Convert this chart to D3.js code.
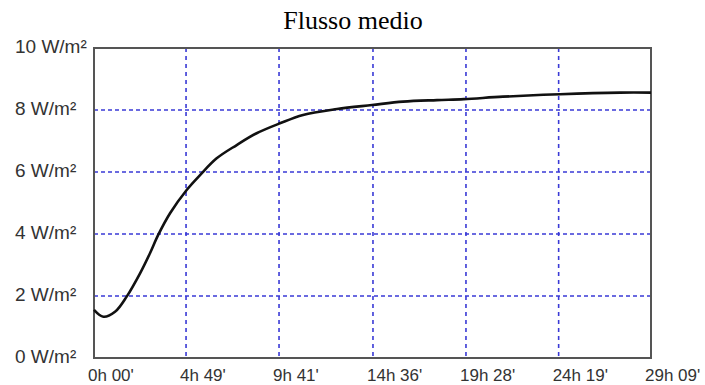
<!DOCTYPE html>
<head>
    <script src="https://d3js.org/d3.v7.min.js"></script>
    <style>
body { margin: 0; background: #fff; }
svg { display: block; }
</style>
</head>
<body>
    <svg></svg>
</body>

<script>
    // hours since start
    var hours = [0, 0.49, 1.10, 1.71, 2.41, 2.93, 3.36, 3.98, 4.85, 5.55, 6.42, 7.47,
                 8.51, 9.73, 10.94, 12.72, 14.55, 16.17, 17.95, 19.36, 21.40, 24.39, 27.53, 29.15];
    // mean flux, W/m2
    var flux = [1.55, 1.33, 1.49, 1.98, 2.73, 3.38, 3.97, 4.67, 5.42, 5.90, 6.44, 6.87,
                7.25, 7.57, 7.84, 8.03, 8.16, 8.27, 8.32, 8.35, 8.43, 8.51, 8.56, 8.56];
    var xTickLabels = ["0h 00'", "4h 49'", "9h 41'", "14h 36'", "19h 28'", "24h 19'", "29h 09'"];
    var yTicks = [0, 2, 4, 6, 8, 10];

    var width = 705, height = 385;
    var pLeft = 94, pRight = 651, pTop = 48, pBottom = 358;

    function parseLabel(s) {
        var m = s.match(/(\d+)h (\d+)'/);
        return +m[1] + m[2] / 60;
    }
    var xTicks = xTickLabels.map(parseLabel);

    var x = d3.scaleLinear().domain([0, 29.15]).range([pLeft, pRight]);
    var y = d3.scaleLinear().domain([0, 10]).range([pBottom, pTop]);

    var svg = d3.select('svg').attr('width', width).attr('height', height);

    svg.append('text')
        .attr('x', 353).attr('y', 29)
        .attr('text-anchor', 'middle')
        .style('font-family', '"Liberation Serif", "Times New Roman", serif')
        .style('font-size', '26px')
        .text('Flusso medio');

    // grid
    svg.append('g').selectAll('line')
        .data(yTicks.slice(1, -1))
        .enter().append('line')
        .attr('x1', pLeft).attr('x2', pRight)
        .attr('y1', function (d) { return y(d) }).attr('y2', function (d) { return y(d) })
        .style('stroke', '#3a3ad6').style('stroke-width', 1.6).style('stroke-dasharray', '4,3');

    svg.append('g').selectAll('line')
        .data(xTicks.slice(1, -1))
        .enter().append('line')
        .attr('y1', pTop).attr('y2', pBottom)
        .attr('x1', function (d) { return x(d) }).attr('x2', function (d) { return x(d) })
        .style('stroke', '#3a3ad6').style('stroke-width', 1.6).style('stroke-dasharray', '4,4');

    // frame
    svg.append('rect')
        .attr('x', pLeft).attr('y', pTop)
        .attr('width', pRight - pLeft).attr('height', pBottom - pTop)
        .style('fill', 'none').style('stroke', '#555').style('stroke-width', 2);

    var line = d3.line()
        .x(function (d, i) { return x(hours[i]) })
        .y(function (d) { return y(d) })
        .curve(d3.curveCatmullRom.alpha(0.5));

    svg.append('path')
        .attr('d', line(flux))
        .style('fill', 'none').style('stroke', '#111').style('stroke-width', 2.6);

    // y labels
    svg.append('g').selectAll('text')
        .data(yTicks)
        .enter().append('text')
        .attr('x', 15)
        .attr('y', function (d) { return y(d) + 5 })
        .style('font-family', '"Liberation Sans", Arial, sans-serif')
        .style('font-size', '19px')
        .style('fill', '#333')
        .text(function (d) { return d + ' W/m\u00b2' });

    // x labels
    svg.append('g').selectAll('text')
        .data(xTicks)
        .enter().append('text')
        .attr('x', function (d) { return x(d) - 6 })
        .attr('y', 381)
        .style('font-family', '"Liberation Sans", Arial, sans-serif')
        .style('font-size', '17px')
        .style('fill', '#333')
        .text(function (d, i) { return xTickLabels[i] });
</script>
